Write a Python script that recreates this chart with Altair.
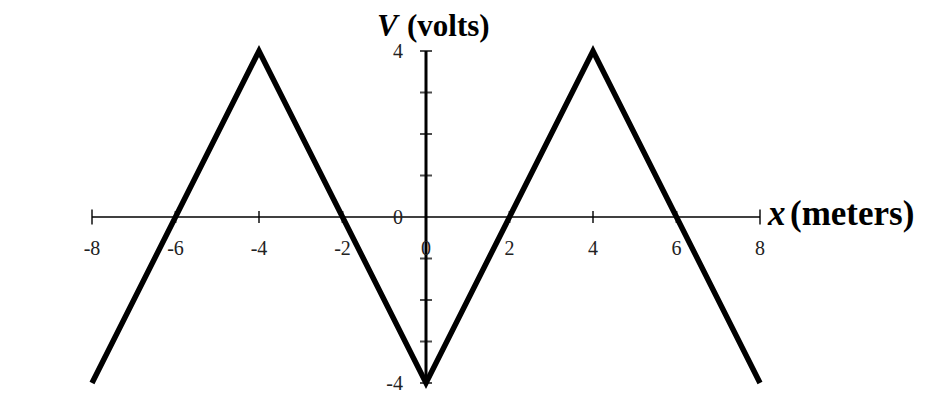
import altair as alt
import pandas as pd

# Data
wave_x = [-8, -4, 0, 4, 8]
wave_v = [-4, 4, -4, 4, -4]

x_tick_vals = [-6, -4, -2, 2, 4, 6]
x_cap_vals = [-8, 8]
x_label_vals = [-8, -6, -4, -2, 0, 2, 4, 6, 8]
x_label_text = ["-8", "-6", "-4", "-2", "0", "2", "4", "6", "8"]

y_tick_vals = [-3, -2, -1, 1, 2, 3]
y_cap_vals = [-4, 4]
y_label_vals = [-4, 0, 4]
y_label_text = ["-4", "0", "4"]

x_min, x_max = -8, 8
y_min, y_max = -4, 4

xs = alt.Scale(domain=[x_min, x_max], nice=False, zero=False)
ys = alt.Scale(domain=[y_min, y_max], nice=False, zero=False)

def X(f="x"):
    return alt.X(f"{f}:Q", scale=xs, axis=None)

def Y(f="y"):
    return alt.Y(f"{f}:Q", scale=ys, axis=None)

wave_df = pd.DataFrame({"x": wave_x, "y": wave_v})
xaxis_df = pd.DataFrame({"x": [x_min], "x2": [x_max], "y": [0]})
yaxis_df = pd.DataFrame({"x": [0], "y": [y_min], "y2": [y_max]})
xt_df = pd.DataFrame({"x": x_tick_vals, "y": [0] * len(x_tick_vals)})
xc_df = pd.DataFrame({"x": x_cap_vals, "y": [0] * len(x_cap_vals)})
yt_df = pd.DataFrame({"x": [0] * len(y_tick_vals), "y": y_tick_vals})
yc_df = pd.DataFrame({"x": [0] * len(y_cap_vals), "y": y_cap_vals})
xl_df = pd.DataFrame({"x": x_label_vals, "y": [0] * len(x_label_vals), "t": x_label_text})
yl_df = pd.DataFrame({"x": [0] * len(y_label_vals), "y": y_label_vals, "t": y_label_text})
ytitle_df = pd.DataFrame({"x": [0], "y": [y_max]})
xtitle_df = pd.DataFrame({"x": [x_max], "y": [0]})

FONT = "Liberation Serif"

xaxis = alt.Chart(xaxis_df).mark_rule(color="black", strokeWidth=1.6).encode(
    x=X(), x2="x2:Q", y=Y())
yaxis = alt.Chart(yaxis_df).mark_rule(color="black", strokeWidth=3).encode(
    x=X(), y=Y(), y2="y2:Q")
xticks = alt.Chart(xt_df).mark_tick(color="black", orient="vertical", size=12, thickness=2).encode(
    x=X(), y=Y())
xcaps = alt.Chart(xc_df).mark_tick(color="black", orient="vertical", size=15, thickness=2).encode(
    x=X(), y=Y())
yticks = alt.Chart(yt_df).mark_tick(color="black", orient="horizontal", size=12, thickness=2).encode(
    x=X(), y=Y())
ycaps = alt.Chart(yc_df).mark_tick(color="black", orient="horizontal", size=12, thickness=2).encode(
    x=X(), y=Y())

wave = alt.Chart(wave_df).mark_line(
    color="black", strokeWidth=5.5, strokeCap="butt", strokeJoin="miter"
).encode(x=X(), y=Y())

xlabels = alt.Chart(xl_df).mark_text(
    font=FONT, fontSize=20, color="#222", align="center", baseline="alphabetic", dy=38
).encode(x=X(), y=Y(), text="t:N")
ylabels = alt.Chart(yl_df).mark_text(
    font=FONT, fontSize=20, color="#222", align="right", baseline="alphabetic", dx=-23, dy=7
).encode(x=X(), y=Y(), text="t:N")

ytitle_v = alt.Chart(ytitle_df).mark_text(
    text="V", font=FONT, fontSize=31, fontWeight="bold", fontStyle="italic",
    color="black", align="left", baseline="alphabetic", dx=-49, dy=-15
).encode(x=X(), y=Y())
ytitle_u = alt.Chart(ytitle_df).mark_text(
    text="(volts)", font=FONT, fontSize=31, fontWeight="bold",
    color="black", align="left", baseline="alphabetic", dx=-19, dy=-15
).encode(x=X(), y=Y())
xtitle_v = alt.Chart(xtitle_df).mark_text(
    text="x", font=FONT, fontSize=35, fontWeight="bold", fontStyle="italic",
    color="black", align="left", baseline="alphabetic", dx=8, dy=8
).encode(x=X(), y=Y())
xtitle_u = alt.Chart(xtitle_df).mark_text(
    text="(meters)", font=FONT, fontSize=35, fontWeight="bold",
    color="black", align="left", baseline="alphabetic", dx=30, dy=8
).encode(x=X(), y=Y())

chart = alt.layer(
    xaxis, yaxis, xticks, xcaps, yticks, ycaps, xlabels, ylabels, wave,
    ytitle_v, ytitle_u, xtitle_v, xtitle_u
).properties(
    width=668, height=332,
    autosize=alt.AutoSizeParams(type="none"),
    padding={"left": 84, "top": 43, "right": 176, "bottom": 20},
).configure(background="white").configure_view(strokeWidth=0, stroke="transparent")

chart.save("out.html", embed_options={"renderer": "svg", "actions": False})
